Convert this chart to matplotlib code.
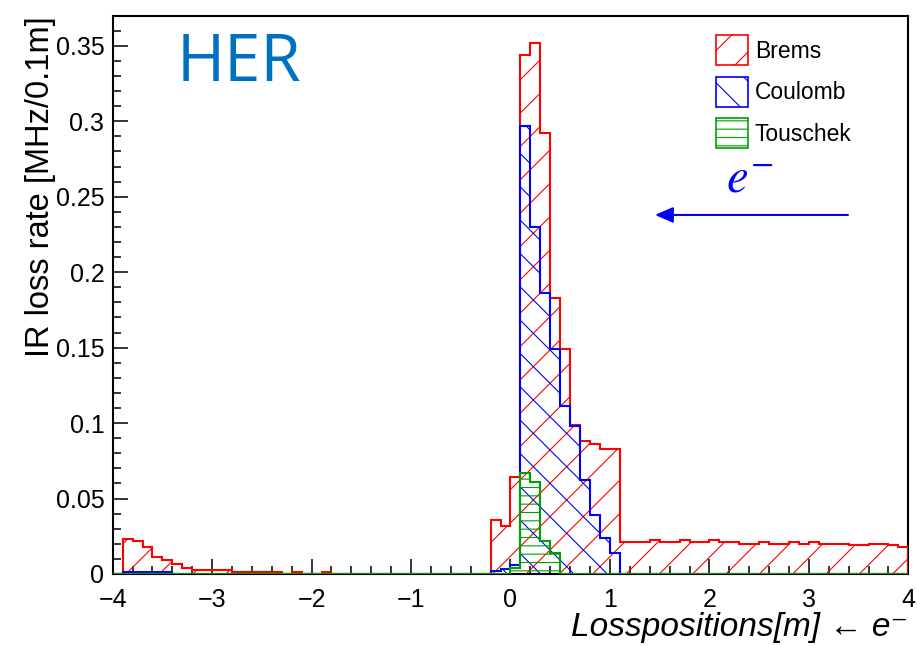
import matplotlib

matplotlib.use("Agg")
import matplotlib.pyplot as plt
import numpy as np
from matplotlib.patches import Patch
from matplotlib.ticker import FuncFormatter, MultipleLocator

# 0.1 m bins from -4 m to 4 m
edges = np.round(np.linspace(-4, 4, 81), 1)

# bin contents [MHz/0.1m], bin by bin from x=-4.0
brems_left = [0.0, 0.023, 0.022, 0.018, 0.0115, 0.0095, 0.0066, 0.0037,
              0.0026, 0.0026, 0.0026, 0.0026,
              0.0015, 0.0015, 0.0015, 0.0015, 0.0015,
              0.0, 0.0015, 0.0, 0.0, 0.0015]                     # -4.0 .. -1.9
brems_gap = [0.0] * 16                                           # -1.8 .. -0.3
brems_peak = [0.036, 0.032, 0.064, 0.344, 0.352, 0.292, 0.183, 0.149,
              0.099, 0.088, 0.086, 0.083, 0.083]                 # -0.2 .. 1.0
brems_right = [0.021, 0.021, 0.021, 0.0225, 0.021, 0.021, 0.0225, 0.0215,
               0.0215, 0.0225, 0.0215, 0.0215, 0.020, 0.020, 0.021, 0.020,
               0.020, 0.021, 0.020, 0.021, 0.020, 0.020, 0.020, 0.019,
               0.019, 0.020, 0.020, 0.019, 0.018]                # 1.1 .. 3.9
brems = brems_left + brems_gap + brems_peak + brems_right

coulomb = [0.0] * 80
coulomb[1:6] = [0.0015] * 5
coulomb[38:51] = [0.002, 0.003, 0.006, 0.297, 0.230, 0.186, 0.149, 0.111,
                  0.098, 0.062, 0.039, 0.024, 0.014]

touschek = [0.0] * 80
touschek[40:45] = [0.004, 0.067, 0.061, 0.022, 0.014]

GREEN = "#00a000"

plt.rcParams["font.family"] = ["Liberation Sans", "DejaVu Sans"]
plt.rcParams["mathtext.fontset"] = "stix"
plt.rcParams["hatch.linewidth"] = 0.8

fig = plt.figure(figsize=(9.17, 6.46), dpi=100)
ax = fig.add_axes([0.1229, 0.1115, 0.8676, 0.8638])

ax.stairs(brems, edges, fill=True, facecolor="none", edgecolor="red",
          hatch="/", linewidth=1.5, zorder=3)
ax.stairs(coulomb, edges, fill=True, facecolor="none", edgecolor="blue",
          hatch="\\", linewidth=1.5, zorder=3)
ax.stairs(touschek, edges, fill=True, facecolor="none", edgecolor=GREEN,
          hatch="--", linewidth=1.5, zorder=3)

ax.set_xlim(-4, 4)
ax.set_ylim(0, 0.3698)

ax.xaxis.set_major_locator(MultipleLocator(1))
ax.xaxis.set_minor_locator(MultipleLocator(0.2))
ax.yaxis.set_major_locator(MultipleLocator(0.05))
ax.yaxis.set_minor_locator(MultipleLocator(0.01))
ax.yaxis.set_major_formatter(FuncFormatter(lambda v, p: f"{v:g}"))
ax.xaxis.set_major_formatter(FuncFormatter(lambda v, p: f"{v:g}".replace("-", "\u2212")))

ax.tick_params(which="both", direction="in", width=1.1, labelsize=18,
               top=False, right=False)
ax.tick_params(axis="x", which="major", length=11, pad=10)
ax.tick_params(axis="x", which="minor", length=5.5)
ax.tick_params(axis="y", which="major", length=11, pad=6)
ax.tick_params(axis="y", which="minor", length=5.5)
for s in ax.spines.values():
    s.set_linewidth(1.5)

ax.set_ylabel("IR loss rate [MHz/0.1m]", fontsize=23.5, loc="top", labelpad=0)
ax.set_xlabel("Losspositions[m] \u2190 e\u207b", fontsize=24, style="italic",
              loc="right", labelpad=0)

handles = [
    Patch(facecolor="none", edgecolor="red", hatch="/", linewidth=1.2),
    Patch(facecolor="none", edgecolor="blue", hatch="\\", linewidth=1.2),
    Patch(facecolor="none", edgecolor=GREEN, hatch="--", linewidth=1.2),
]
ax.legend(handles, ["Brems", "Coulomb", "Touschek"], loc="upper left",
          bbox_to_anchor=(0.758, 0.966), frameon=False, fontsize=16.5,
          handlelength=1.4, handleheight=1.65, handletextpad=0.3,
          labelspacing=0.5, borderpad=0, borderaxespad=0)

ax.text(0.080, 0.884, "HER", transform=ax.transAxes, fontsize=47,
        family="Open Sans", color="#0070C0", va="baseline", ha="left")
ax.text(0.801, 0.683, "$e^{-}$", transform=ax.transAxes, fontsize=35,
        color="blue", va="baseline", ha="center")
ax.annotate("", xy=(0.6816, 0.6434), xytext=(0.9242, 0.6434),
            xycoords="axes fraction", textcoords="axes fraction",
            arrowprops=dict(arrowstyle="-|>,head_length=0.55,head_width=0.24",
                            mutation_scale=20, color="blue", lw=1.5,
                            shrinkA=0, shrinkB=0))

fig.savefig("out.png", dpi=100)
